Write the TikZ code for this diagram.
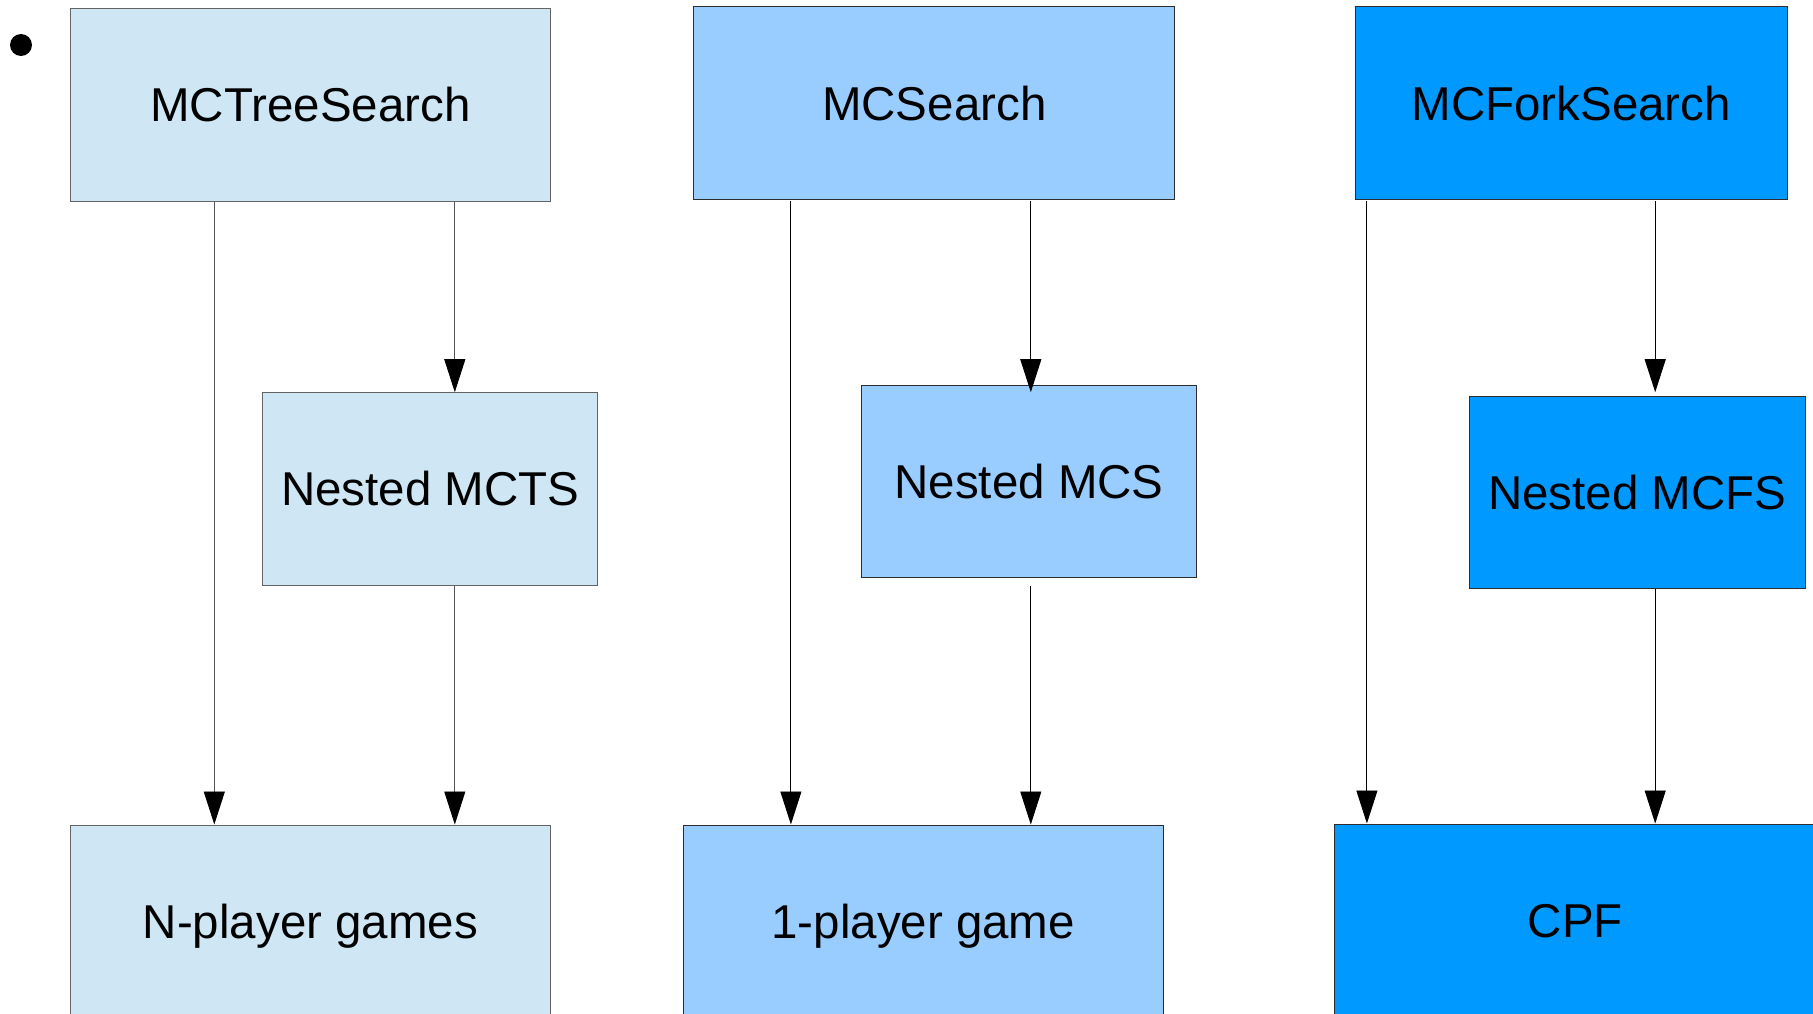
\documentclass[tikz,border=0pt]{standalone}
\usepackage{fontspec}
\setmainfont{Liberation Sans}
\usetikzlibrary{arrows.meta}
\definecolor{cA}{RGB}{207,231,245}
\definecolor{cB}{RGB}{153,204,255}
\definecolor{cC}{RGB}{0,153,255}
\definecolor{bdA}{RGB}{100,100,100}
\definecolor{bdB}{RGB}{45,45,45}
\definecolor{lnA}{RGB}{85,85,85}
\begin{document}
\begin{tikzpicture}[x=1pt,y=-1pt,
  box/.style={draw, line width=1pt, inner sep=0pt, text height=34pt, text depth=0pt,
              font=\fontsize{47.5}{56}\selectfont},
  arr/.style={line width=0.9pt, -{Triangle[length=33pt,width=21pt,color=black]}},
]
\useasboundingbox (0,0) rectangle (1813,1014);
\clip (0,0) rectangle (1813,1014);
\fill[white] (0,0) rectangle (1813,1014);

\node[circle, fill=black, minimum size=22pt, inner sep=0pt] (dot) at (21,45) {};

% column 1
\node[box, fill=cA, draw=bdA, minimum width=479.9pt, minimum height=192pt] (b1) at (310.45,105) {MCTreeSearch};
\node[box, fill=cA, draw=bdA, minimum width=335.3pt, minimum height=192.3pt] (n1) at (430.15,488.85) {Nested MCTS};
\node[box, fill=cA, draw=bdA, minimum width=479.9pt, minimum height=192pt] (r1) at (310.45,921) {N-player games};

% column 2
\node[box, fill=cB, draw=bdB, minimum width=481pt, minimum height=192.3pt] (b2) at (934.3,103.15) {MCSearch};
\node[box, fill=cB, draw=bdB, minimum width=335.3pt, minimum height=191.6pt] (n2) at (1029.05,481.5) {Nested MCS};
\node[box, fill=cB, draw=bdB, minimum width=479.9pt, minimum height=192pt] (r2) at (923.25,921) {1-player game};

% column 3
\node[box, fill=cC, draw=bdB, minimum width=432.6pt, minimum height=192.3pt] (b3) at (1571.3,103.15) {MCForkSearch};
\node[box, fill=cC, draw=bdB, minimum width=335.4pt, minimum height=192.3pt] (n3) at (1637.3,492.15) {Nested MCFS};
\node[box, fill=cC, draw=bdB, minimum width=482pt, minimum height=192pt] (r3) at (1575.3,920) {CPF};

% arrow columns
\coordinate (xa) at (214.3,0);
\coordinate (xb) at (454.8,0);
\coordinate (xc) at (790.9,0);
\coordinate (xd) at (1030.8,0);
\coordinate (xe) at (1366.9,0);
\coordinate (xf) at (1655.2,0);

\draw[arr, draw=lnA] (b1.south -| xa) -- (r1.north -| xa);
\draw[arr, draw=lnA] (b1.south -| xb) -- (n1.north -| xb);
\draw[arr, draw=lnA] (n1.south -| xb) -- (r1.north -| xb);

\draw[arr, shorten <=1.5pt] (b2.south -| xc) -- (r2.north -| xc);
\draw[arr, shorten >=-7pt, shorten <=1.5pt] (b2.south -| xd) -- (n2.north -| xd);
\draw[arr, shorten <=8pt] (n2.south -| xd) -- (r2.north -| xd);

\draw[arr, shorten <=1.5pt] (b3.south -| xe) -- (r3.north -| xe);
\draw[arr, shorten >=3.3pt, shorten <=1.5pt] (b3.south -| xf) -- (n3.north -| xf);
\draw[arr] (n3.south -| xf) -- (r3.north -| xf);
\end{tikzpicture}
\end{document}
